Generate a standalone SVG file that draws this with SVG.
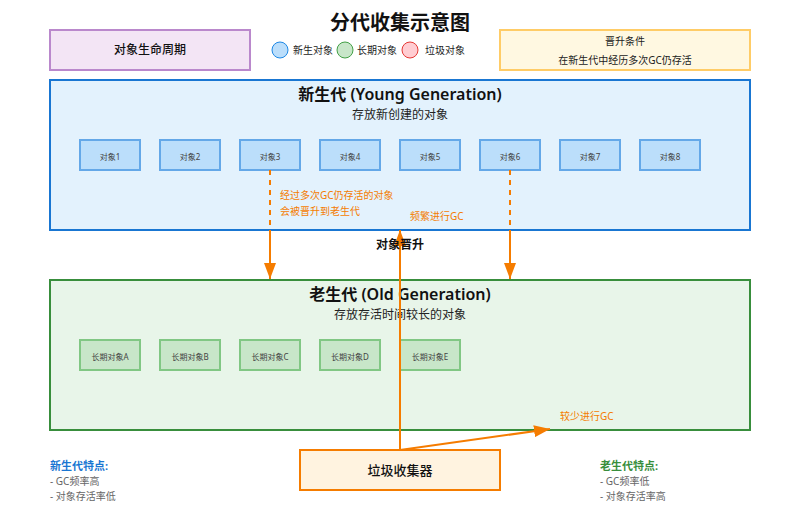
<svg xmlns="http://www.w3.org/2000/svg" width="800" height="520" viewBox="0 0 800 520">
<defs>
<marker id="arrL" markerWidth="16" markerHeight="12" refX="16" refY="6" orient="auto" markerUnits="userSpaceOnUse">
<path d="M0,0 L16,6 L0,12 z" fill="#f57c00"/>
</marker>
<style>
text{font-family:"Noto Sans","Noto Sans CJK SC",sans-serif;}
.c{text-anchor:middle;}
.yo rect{fill:#bbdefb;stroke:#64a8e8;stroke-width:2;}
.oo rect{fill:#c8e6c9;stroke:#81c784;stroke-width:2;}
.obj{font-size:8px;fill:#444;text-anchor:middle;}
.or{fill:#f57c00;font-size:10px;}
.ln{stroke:#f57c00;stroke-width:2;fill:none;}
.gt{font-size:16px;font-weight:600;fill:#111;text-anchor:middle;}
.gs{font-size:12px;fill:#222;text-anchor:middle;}
.ft{font-size:10px;fill:#666;}
</style>
</defs>
<text x="400" y="30" class="c" font-size="20" font-weight="bold" fill="#111">分代收集示意图</text>

<g id="lifecycle">
<rect x="50" y="30" width="200" height="40" fill="#f3e5f5" stroke="#ba88cc" stroke-width="2"/>
<text x="150" y="54" class="c" font-size="12" font-weight="500" fill="#111">对象生命周期</text>
</g>

<g id="legend">
<circle cx="280" cy="50" r="8" fill="#bbdefb" stroke="#1e88e5" stroke-width="1"/>
<text x="293" y="54" font-size="10" fill="#222">新生对象</text>
<circle cx="345" cy="50" r="8" fill="#c8e6c9" stroke="#43a047" stroke-width="1"/>
<text x="357" y="54" font-size="10" fill="#222">长期对象</text>
<circle cx="410" cy="50" r="8" fill="#ffcdd2" stroke="#e53935" stroke-width="1"/>
<text x="425" y="54" font-size="10" fill="#222">垃圾对象</text>
</g>

<g id="promotion-cond">
<rect x="500" y="30" width="250" height="40" fill="#fff8e1" stroke="#ffcc66" stroke-width="2"/>
<text x="625" y="45" class="c" font-size="10" fill="#222">晋升条件</text>
<text x="625" y="64" class="c" font-size="10" fill="#222">在新生代中经历多次GC仍存活</text>
</g>

<g id="young">
<rect x="50" y="80" width="700" height="150" fill="#e3f2fd" stroke="#1976d2" stroke-width="2"/>
<text x="400" y="100" class="gt">新生代 (Young Generation)</text>
<text x="400" y="119" class="gs">存放新创建的对象</text>
</g>
<g id="young-objects" class="yo">
<g id="obj1"><rect x="80" y="140" width="60" height="30"/><text x="110" y="160" class="obj">对象1</text></g>
<g id="obj2"><rect x="160" y="140" width="60" height="30"/><text x="190" y="160" class="obj">对象2</text></g>
<g id="obj3"><rect x="240" y="140" width="60" height="30"/><text x="270" y="160" class="obj">对象3</text></g>
<g id="obj4"><rect x="320" y="140" width="60" height="30"/><text x="350" y="160" class="obj">对象4</text></g>
<g id="obj5"><rect x="400" y="140" width="60" height="30"/><text x="430" y="160" class="obj">对象5</text></g>
<g id="obj6"><rect x="480" y="140" width="60" height="30"/><text x="510" y="160" class="obj">对象6</text></g>
<g id="obj7"><rect x="560" y="140" width="60" height="30"/><text x="590" y="160" class="obj">对象7</text></g>
<g id="obj8"><rect x="640" y="140" width="60" height="30"/><text x="670" y="160" class="obj">对象8</text></g>
</g>

<g id="old">
<rect x="50" y="280" width="700" height="150" fill="#e8f5e9" stroke="#388e3c" stroke-width="2"/>
<text x="400" y="300" class="gt">老生代 (Old Generation)</text>
<text x="400" y="319" class="gs">存放存活时间较长的对象</text>
</g>
<g id="old-objects" class="oo">
<g id="oldA"><rect x="80" y="340" width="60" height="30"/><text x="110" y="360" class="obj">长期对象A</text></g>
<g id="oldB"><rect x="160" y="340" width="60" height="30"/><text x="190" y="360" class="obj">长期对象B</text></g>
<g id="oldC"><rect x="240" y="340" width="60" height="30"/><text x="270" y="360" class="obj">长期对象C</text></g>
<g id="oldD"><rect x="320" y="340" width="60" height="30"/><text x="350" y="360" class="obj">长期对象D</text></g>
<g id="oldE"><rect x="400" y="340" width="60" height="30"/><text x="430" y="360" class="obj">长期对象E</text></g>
</g>

<g id="gc">
<rect x="300" y="450" width="200" height="40" fill="#fff3e0" stroke="#f57c00" stroke-width="2"/>
<text x="400" y="475" class="c" font-size="13" font-weight="500" fill="#111">垃圾收集器</text>
</g>

<g id="connectors">
<line x1="270" y1="170" x2="270" y2="230" class="ln" stroke-dasharray="5,5"/>
<line x1="270" y1="230" x2="270" y2="279" class="ln" marker-end="url(#arrL)"/>
<line x1="510" y1="170" x2="510" y2="230" class="ln" stroke-dasharray="5,5"/>
<line x1="510" y1="230" x2="510" y2="279" class="ln" marker-end="url(#arrL)"/>
<line x1="400" y1="450" x2="400" y2="230" class="ln" marker-end="url(#arrL)"/>
<line x1="400" y1="450" x2="550" y2="429" class="ln" marker-end="url(#arrL)"/>
</g>

<g id="labels">
<text x="280" y="199" class="or">经过多次GC仍存活的对象</text>
<text x="280" y="215" class="or">会被晋升到老生代</text>
<text x="410" y="220" class="or">频繁进行GC</text>
<text x="400" y="249" class="c" font-size="12" font-weight="bold" fill="#111">对象晋升</text>
<text x="560" y="420" class="or">较少进行GC</text>
</g>

<g id="young-features">
<text x="50" y="470" font-size="11" font-weight="bold" fill="#1976d2">新生代特点:</text>
<text x="50" y="485" class="ft">- GC频率高</text>
<text x="50" y="500" class="ft">- 对象存活率低</text>
</g>
<g id="old-features">
<text x="600" y="470" font-size="11" font-weight="bold" fill="#388e3c">老生代特点:</text>
<text x="600" y="485" class="ft">- GC频率低</text>
<text x="600" y="500" class="ft">- 对象存活率高</text>
</g>
</svg>
